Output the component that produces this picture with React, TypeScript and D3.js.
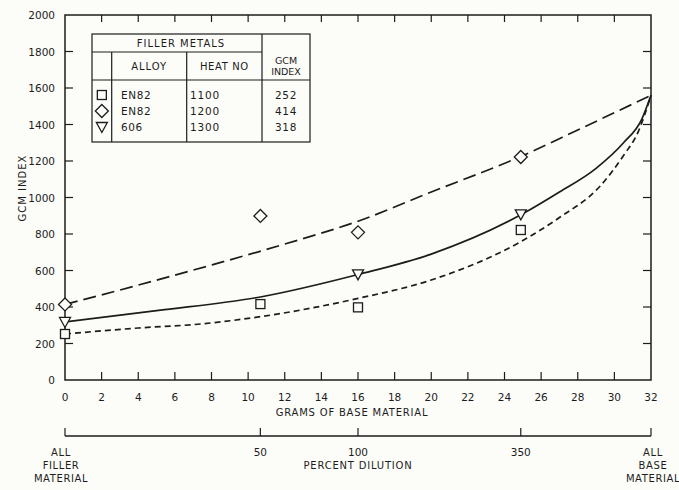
import React from "react";
import * as d3 from "d3";

// ---- data ----
const gramTicks = d3.range(0, 33, 2);
const gcmTicks = d3.range(0, 2001, 200);

// filler-metal table
const symbols = ["square", "diamond", "triangle"];
const alloys = ["EN82", "EN82", "606"];
const heatNos = ["1100", "1200", "1300"];
const gcmIndex = [252, 414, 318];

// measured points (grams of base material, GCM index)
const squareGrams = [0, 10.67, 16, 24.89];
const squareValues = [252, 416, 398, 822];
const diamondGrams = [0, 10.67, 16, 24.89];
const diamondValues = [414, 899, 809, 1222];
const triangleGrams = [0, 16, 24.89];
const triangleValues = [318, 579, 908];

// fitted curves
const upperCurveGrams = [0, 4, 8, 12, 16, 20, 24.89, 28, 32];
const upperCurveValues = [414, 520, 630, 745, 870, 1030, 1225, 1370, 1560];
const midCurveGrams = [0, 5, 10.67, 16, 20, 24.89, 27, 29, 30.5, 31.5, 32];
const midCurveValues = [318, 380, 455, 578, 690, 905, 1030, 1160, 1300, 1430, 1560];
const lowCurveGrams = [0, 4, 7.4, 10.67, 16, 20, 24.89, 27, 29.2, 30.5, 31.3, 32];
const lowCurveValues = [252, 285, 307, 347, 447, 548, 758, 890, 1060, 1230, 1360, 1560];

// secondary (percent dilution) axis
const dilutionValues = [50, 100, 350];
const totalGrams = 32;
const leftEndLabel = ["ALL", "FILLER", "MATERIAL"];
const rightEndLabel = ["ALL", "BASE", "MATERIAL"];

const INK = "#1c1c1c";
const BG = "#fcfcf9";
const FONT = "'DejaVu Sans', sans-serif";

function Marker({ kind, cx, cy }: { kind: string; cx: number; cy: number }) {
  const common = { fill: BG, stroke: INK, strokeWidth: 1.3 };
  if (kind === "square") return <rect x={cx - 4.5} y={cy - 4.5} width={9} height={9} {...common} />;
  if (kind === "diamond")
    return <path d={`M${cx},${cy - 6.5}L${cx + 6.5},${cy}L${cx},${cy + 6.5}L${cx - 6.5},${cy}Z`} {...common} />;
  return <path d={`M${cx - 5.5},${cy - 4.5}L${cx + 5.5},${cy - 4.5}L${cx},${cy + 5.5}Z`} {...common} />;
}

export default function App() {
  const W = 679, H = 490;
  const x = d3.scaleLinear().domain([0, 32]).range([65, 651]);
  const y = d3.scaleLinear().domain([0, 2000]).range([380, 15]);
  const line = d3
    .line<[number, number]>()
    .x((d) => x(d[0]))
    .y((d) => y(d[1]))
    .curve(d3.curveMonotoneX);
  const zip = (a: number[], b: number[]) => a.map((v, i) => [v, b[i]] as [number, number]);

  const [x0, x1] = x.range();
  const [yb, yt] = y.range();
  const dilY = 436;
  const dilLab = 456;
  const lineGap = 13;

  // table geometry
  const tL = 92, tR = 310, tT = 34, tH1 = 52, tH2 = 80, tB = 142;
  const c1 = 111.7, c2 = 186.7, c3 = 262;
  const rowY = [95, 111, 127];

  const txt = { fontFamily: FONT, fontSize: 10.5, fill: INK } as const;

  return (
    <svg width={W} height={H} style={{ position: "absolute", left: 0, top: 0, background: BG }}>
      <rect x={0} y={0} width={W} height={H} fill={BG} />
      {/* frame */}
      <rect x={x0} y={yt} width={x1 - x0} height={yb - yt} fill="none" stroke={INK} strokeWidth={1.5} />
      {/* x ticks top & bottom */}
      {gramTicks.map((g) => (
        <g key={"gx" + g}>
          {g > 0 && g < 32 && (
            <>
              <line x1={x(g)} x2={x(g)} y1={yb} y2={yb - 8} stroke={INK} strokeWidth={1.2} />
              <line x1={x(g)} x2={x(g)} y1={yt} y2={yt + 7} stroke={INK} strokeWidth={1.2} />
            </>
          )}
          <text x={x(g)} y={yb + 21} textAnchor="middle" {...txt}>
            {g}
          </text>
        </g>
      ))}
      {/* y ticks left & right */}
      {gcmTicks.map((v) => (
        <g key={"gy" + v}>
          {v > 0 && v < 2000 && (
            <>
              <line x1={x0} x2={x0 + 8} y1={y(v)} y2={y(v)} stroke={INK} strokeWidth={1.2} />
              <line x1={x1} x2={x1 - 8} y1={y(v)} y2={y(v)} stroke={INK} strokeWidth={1.2} />
            </>
          )}
          <text x={55} y={y(v) + 4} textAnchor="end" {...txt}>
            {v}
          </text>
        </g>
      ))}
      <text
        transform={`translate(26,188) rotate(-90)`}
        textAnchor="middle"
        {...txt}
        fontSize={10}
        letterSpacing={1}
      >
        GCM INDEX
      </text>
      <text x={352} y={416} textAnchor="middle" {...txt} fontSize={10} letterSpacing={0.8}>
        GRAMS OF BASE MATERIAL
      </text>

      {/* curves */}
      <path d={line(zip(upperCurveGrams, upperCurveValues)) || ""} fill="none" stroke={INK} strokeWidth={1.7} strokeDasharray="13 6" />
      <path d={line(zip(midCurveGrams, midCurveValues)) || ""} fill="none" stroke={INK} strokeWidth={1.7} />
      <path d={line(zip(lowCurveGrams, lowCurveValues)) || ""} fill="none" stroke={INK} strokeWidth={1.7} strokeDasharray="6 4" />

      {/* points */}
      {squareGrams.map((g, i) => (
        <Marker key={"s" + i} kind="square" cx={x(g)} cy={y(squareValues[i])} />
      ))}
      {diamondGrams.map((g, i) => (
        <Marker key={"d" + i} kind="diamond" cx={x(g)} cy={y(diamondValues[i])} />
      ))}
      {triangleGrams.map((g, i) => (
        <Marker key={"t" + i} kind="triangle" cx={x(g)} cy={y(triangleValues[i])} />
      ))}

      {/* table */}
      <g fill="none" stroke={INK} strokeWidth={1.2}>
        <rect x={tL} y={tT} width={tR - tL} height={tB - tT} fill={BG} />
        <line x1={tL} x2={c3} y1={tH1} y2={tH1} />
        <line x1={tL} x2={tR} y1={tH2} y2={tH2} />
        <line x1={c1} x2={c1} y1={tH1} y2={tB} />
        <line x1={c2} x2={c2} y1={tH1} y2={tB} />
        <line x1={c3} x2={c3} y1={tT} y2={tB} />
      </g>
      <text x={(tL + c3) / 2 + 4} y={47} textAnchor="middle" {...txt} fontSize={10} letterSpacing={1}>
        FILLER METALS
      </text>
      <text x={(c1 + c2) / 2} y={70} textAnchor="middle" {...txt} fontSize={10} letterSpacing={1}>
        ALLOY
      </text>
      <text x={(c2 + c3) / 2} y={70} textAnchor="middle" {...txt} fontSize={10} letterSpacing={0.6}>
        HEAT NO
      </text>
      <text x={(c3 + tR) / 2} y={64} textAnchor="middle" {...txt} fontSize={9.5}>
        GCM
      </text>
      <text x={(c3 + tR) / 2} y={75} textAnchor="middle" {...txt} fontSize={9.5}>
        INDEX
      </text>
      {alloys.map((a, i) => (
        <g key={"row" + i}>
          <Marker kind={symbols[i]} cx={(tL + c1) / 2} cy={rowY[i]} />
          <text x={121} y={rowY[i] + 4} {...txt} letterSpacing={0.6}>
            {a}
          </text>
          <text x={190} y={rowY[i] + 4} {...txt} letterSpacing={0.8}>
            {heatNos[i]}
          </text>
          <text x={(c3 + tR) / 2} y={rowY[i] + 4} textAnchor="middle" {...txt} letterSpacing={0.6}>
            {gcmIndex[i]}
          </text>
        </g>
      ))}

      {/* percent dilution axis */}
      <line x1={x0} x2={x1} y1={dilY} y2={dilY} stroke={INK} strokeWidth={1.3} />
      {[0, ...dilutionValues.map((d) => (totalGrams * d) / (100 + d)), 32].map((g, i) => (
        <line key={"dt" + i} x1={x(g)} x2={x(g)} y1={dilY} y2={dilY - 8} stroke={INK} strokeWidth={1.2} />
      ))}
      {dilutionValues.map((d) => (
        <text key={"dl" + d} x={x((totalGrams * d) / (100 + d))} y={dilLab} textAnchor="middle" {...txt}>
          {d}
        </text>
      ))}
      <text x={x(16)} y={dilLab + lineGap} textAnchor="middle" {...txt} fontSize={10} letterSpacing={0.8}>
        PERCENT DILUTION
      </text>
      {leftEndLabel.map((t, i) => (
        <text key={"lf" + t} x={x0 - 4} y={dilLab + i * lineGap} textAnchor="middle" {...txt} fontSize={10} letterSpacing={0.6}>
          {t}
        </text>
      ))}
      {rightEndLabel.map((t, i) => (
        <text key={"rb" + t} x={x1 + 2} y={dilLab + i * lineGap} textAnchor="middle" {...txt} fontSize={10} letterSpacing={0.6}>
          {t}
        </text>
      ))}
    </svg>
  );
}
